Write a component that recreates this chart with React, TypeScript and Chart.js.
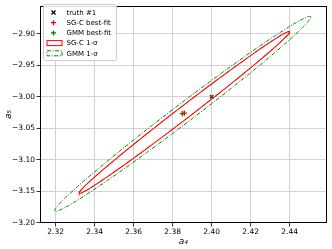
import React, { useEffect, useRef } from "react";
import { Chart, registerables } from "chart.js";
Chart.register(...registerables);

// ---- data ----
const xTicks = [2.32, 2.34, 2.36, 2.38, 2.4, 2.42, 2.44];
const yTicks = [-3.2, -3.15, -3.1, -3.05, -3.0, -2.95, -2.9];
const xLimits = [2.312, 2.459];
const yLimits = [-3.2005, -2.856];

const truthPoint = [2.4, -3.0];
const sgcBestFit = [2.386, -3.026];
const gmmBestFit = [2.385, -3.027];

// 1-sigma ellipses: centre and covariance [sxx, sxy, syy]
const sgcCenter = [2.386, -3.025];
const sgcCov = [0.002916, 0.006912, 0.01654];
const gmmCenter = [2.3852, -3.0272];
const gmmCov = [0.00431, 0.010087, 0.023969];

const legendLabels = ["truth #1", "SG-C best-fit", "GMM best-fit", "SG-C 1-\u03c3", "GMM 1-\u03c3"];

const RED = "#ff0000";
const GREEN = "#008000";
const FONT = "'DejaVu Sans', sans-serif";

function ellipsePoints(center: number[], cov: number[], n = 240) {
  const l11 = Math.sqrt(cov[0]);
  const l21 = cov[1] / l11;
  const l22 = Math.sqrt(Math.max(cov[2] - l21 * l21, 0));
  const pts: { x: number; y: number }[] = [];
  for (let i = 0; i <= n; i++) {
    const t = (2 * Math.PI * i) / n;
    pts.push({ x: center[0] + l11 * Math.cos(t), y: center[1] + l21 * Math.cos(t) + l22 * Math.sin(t) });
  }
  return pts;
}

const fmt = (v: number) => v.toFixed(2).replace("-", "\u2212");

const framePlugin = {
  id: "frame",
  afterDatasetsDraw(chart: any) {
    const { ctx, chartArea: a } = chart;
    ctx.save();
    ctx.strokeStyle = "#000";
    ctx.lineWidth = 1;
    ctx.strokeRect(Math.round(a.left) + 0.5, Math.round(a.top) + 0.5, Math.round(a.right - a.left) - 1, Math.round(a.bottom - a.top) - 1);
    ctx.restore();
  },
};

const legendPlugin = {
  id: "mplLegend",
  afterDraw(chart: any) {
    const { ctx } = chart;
    ctx.save();
    const bx = 43, by = 4, bw = 73, bh = 56;
    ctx.fillStyle = "rgba(255,255,255,0.85)";
    ctx.strokeStyle = "#cccccc";
    ctx.lineWidth = 1;
    ctx.beginPath();
    (ctx as any).roundRect(bx + 0.5, by + 0.5, bw, bh, 2);
    ctx.fill();
    ctx.stroke();
    const rows = [12.5, 22.7, 32.9, 43.1, 53.3];
    const mx = 53.5;
    ctx.font = `7px ${FONT}`;
    ctx.textBaseline = "middle";
    rows.forEach((ry, i) => {
      ctx.fillStyle = "#000";
      ctx.fillText(legendLabels[i], 66.5, ry + 0.5);
    });
    // truth x
    ctx.strokeStyle = "#000";
    ctx.lineWidth = 1.3;
    ctx.beginPath();
    ctx.moveTo(mx - 2, rows[0] - 2); ctx.lineTo(mx + 2, rows[0] + 2);
    ctx.moveTo(mx + 2, rows[0] - 2); ctx.lineTo(mx - 2, rows[0] + 2);
    ctx.stroke();
    // plus markers
    [[RED, rows[1]], [GREEN, rows[2]]].forEach(([c, ry]: any) => {
      ctx.strokeStyle = c;
      ctx.beginPath();
      ctx.moveTo(mx - 2.5, ry); ctx.lineTo(mx + 2.5, ry);
      ctx.moveTo(mx, ry - 2.5); ctx.lineTo(mx, ry + 2.5);
      ctx.stroke();
    });
    // patches
    ctx.lineWidth = 1;
    ctx.strokeStyle = RED;
    ctx.strokeRect(47, rows[3] - 2.5, 15, 5);
    ctx.strokeStyle = GREEN;
    ctx.setLineDash([4, 1.5, 1, 1.5]);
    ctx.strokeRect(47, rows[4] - 2.5, 15, 5);
    ctx.restore();
  },
};

export default function App() {
  const ref = useRef<HTMLCanvasElement>(null);
  useEffect(() => {
    document.body.style.margin = "0";
    const chart = new Chart(ref.current!, {
      type: "scatter",
      data: {
        datasets: [
          {
            label: legendLabels[0],
            data: [{ x: truthPoint[0], y: truthPoint[1] }],
            pointStyle: "crossRot",
            pointRadius: 2.6,
            borderColor: "#333",
            backgroundColor: "#333",
            borderWidth: 1.3,
            order: 0,
          },
          {
            label: legendLabels[1],
            data: [{ x: sgcBestFit[0], y: sgcBestFit[1] }],
            pointStyle: "cross",
            pointRadius: 2.6,
            borderColor: RED,
            backgroundColor: RED,
            borderWidth: 1.3,
            order: 0,
          },
          {
            label: legendLabels[2],
            data: [{ x: gmmBestFit[0], y: gmmBestFit[1] }],
            pointStyle: "cross",
            pointRadius: 2.6,
            borderColor: GREEN,
            backgroundColor: GREEN,
            borderWidth: 1.3,
            order: 0,
          },
          {
            label: legendLabels[3],
            data: ellipsePoints(sgcCenter, sgcCov),
            showLine: true,
            pointRadius: 0,
            borderColor: RED,
            borderWidth: 1.1,
            fill: false,
            tension: 0,
            order: 1,
          },
          {
            label: legendLabels[4],
            data: ellipsePoints(gmmCenter, gmmCov),
            showLine: true,
            pointRadius: 0,
            borderColor: GREEN,
            borderWidth: 1,
            borderDash: [4, 1.5, 1, 1.5],
            fill: false,
            tension: 0,
            order: 1,
          },
        ],
      },
      options: {
        animation: false,
        responsive: true,
        maintainAspectRatio: false,
        layout: { padding: { top: 3, right: 2, left: 0, bottom: 0 } },
        plugins: { legend: { display: false }, tooltip: { enabled: false } },
        scales: {
          x: {
            type: "linear",
            min: xLimits[0],
            max: xLimits[1],
            afterBuildTicks: (s: any) => { s.ticks = xTicks.map((v) => ({ value: v })); },
            afterFit: (s: any) => { s.height = 26; },
            grid: { color: "#d2d2d2", lineWidth: 1, tickColor: "#000", tickLength: 3.5, tickWidth: 0.8 },
            border: { display: false },
            ticks: { color: "#000", font: { size: 7.5, family: FONT }, padding: 1.5, maxRotation: 0, callback: (v: any) => fmt(Number(v)) },
            title: { display: true, text: "a\u2084", color: "#000", font: { size: 9, family: FONT, style: "italic" }, padding: { top: 0, bottom: 2 } },
          },
          y: {
            type: "linear",
            min: yLimits[0],
            max: yLimits[1],
            afterBuildTicks: (s: any) => { s.ticks = yTicks.map((v) => ({ value: v })); },
            afterFit: (s: any) => { s.width = 40; },
            grid: { color: "#d2d2d2", lineWidth: 1, tickColor: "#000", tickLength: 3.5, tickWidth: 0.8 },
            border: { display: false },
            ticks: { color: "#000", font: { size: 7.5, family: FONT }, padding: 1.5, callback: (v: any) => fmt(Number(v)) },
            title: { display: true, text: "a\u2085", color: "#000", font: { size: 9, family: FONT, style: "italic" }, padding: { top: 3, bottom: 0 } },
          },
        },
      },
      plugins: [framePlugin, legendPlugin],
    } as any);
    return () => chart.destroy();
  }, []);
  return (
    <div style={{ position: "relative", width: 332, height: 249 }}>
      <canvas ref={ref} />
    </div>
  );
}
